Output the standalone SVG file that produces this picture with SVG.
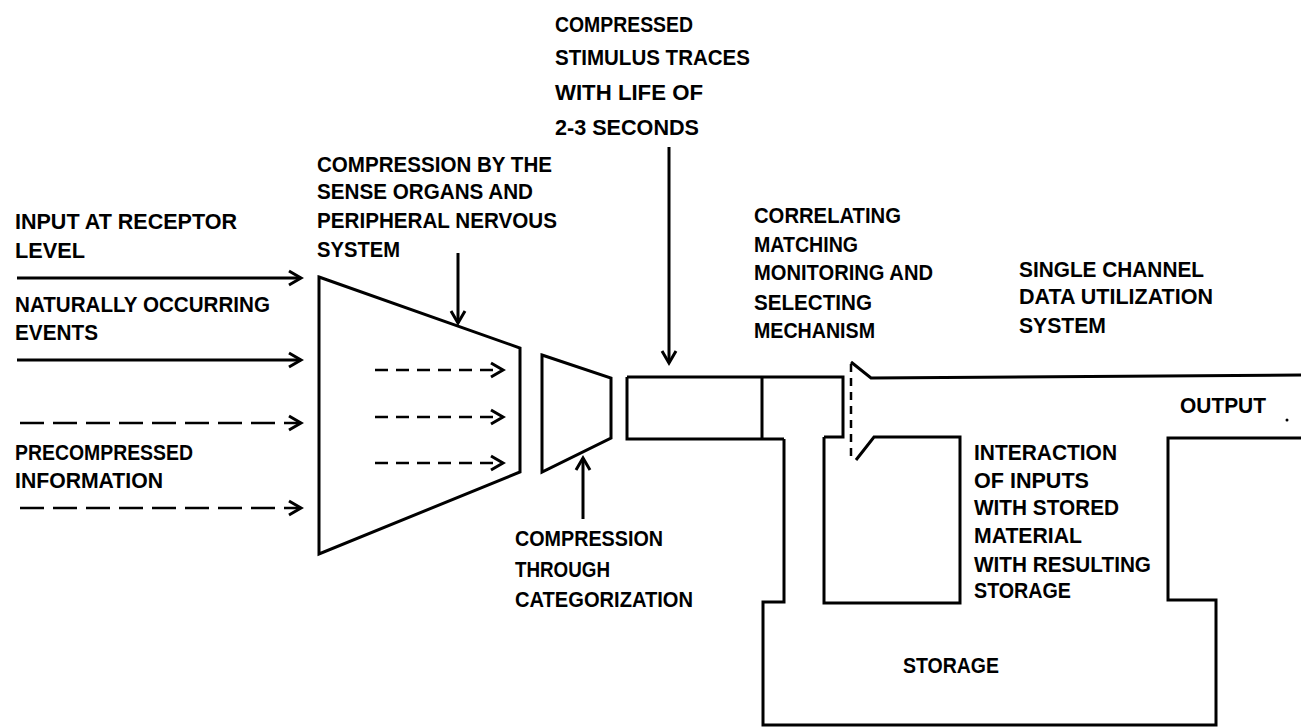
<svg xmlns="http://www.w3.org/2000/svg" width="1301" height="727" viewBox="0 0 1301 727">
<style>
.t{font-family:"Liberation Sans",Arial,sans-serif;font-weight:bold;font-size:22px;fill:#000}
.ln{fill:none;stroke:#000;stroke-width:3;stroke-linejoin:miter}
.dl{fill:none;stroke:#000;stroke-width:2.5;stroke-dasharray:24 9}
.ds{fill:none;stroke:#000;stroke-width:2.5;stroke-dasharray:13 8}
.dv{fill:none;stroke:#000;stroke-width:2.5;stroke-dasharray:8 6}
</style>
<defs>
<marker id="ah" markerUnits="userSpaceOnUse" markerWidth="16" markerHeight="18" viewBox="0 0 16 18" refX="14" refY="9" orient="auto" overflow="visible">
<path d="M2,2 L14,9 L2,16" fill="none" stroke="#000" stroke-width="3"/>
</marker>
</defs>
<rect width="1301" height="727" fill="#fff"/>

<g id="inputs-text">
<text class="t" x="15" y="229" textLength="222" lengthAdjust="spacingAndGlyphs">INPUT AT RECEPTOR</text>
<text class="t" x="15" y="258" textLength="70" lengthAdjust="spacingAndGlyphs">LEVEL</text>
<text class="t" x="15" y="312" textLength="255" lengthAdjust="spacingAndGlyphs">NATURALLY OCCURRING</text>
<text class="t" x="15" y="340" textLength="83" lengthAdjust="spacingAndGlyphs">EVENTS</text>
<text class="t" x="15" y="460" textLength="178" lengthAdjust="spacingAndGlyphs">PRECOMPRESSED</text>
<text class="t" x="15" y="488" textLength="148" lengthAdjust="spacingAndGlyphs">INFORMATION</text>
</g>

<g id="sense-compressor">
<path class="ln" d="M319,277 L520,348 L520,472 L319,554 Z"/>
<text class="t" x="317" y="172" textLength="235" lengthAdjust="spacingAndGlyphs">COMPRESSION BY THE</text>
<text class="t" x="317" y="199" textLength="216" lengthAdjust="spacingAndGlyphs">SENSE ORGANS AND</text>
<text class="t" x="317" y="228" textLength="240" lengthAdjust="spacingAndGlyphs">PERIPHERAL NERVOUS</text>
<text class="t" x="317" y="257" textLength="83" lengthAdjust="spacingAndGlyphs">SYSTEM</text>
</g>

<g id="categorizer">
<path class="ln" d="M542,355 L611,378 L611,438 L542,472 Z"/>
<text class="t" x="515" y="546" textLength="148" lengthAdjust="spacingAndGlyphs">COMPRESSION</text>
<text class="t" x="515" y="577" textLength="95" lengthAdjust="spacingAndGlyphs">THROUGH</text>
<text class="t" x="515" y="607" textLength="178" lengthAdjust="spacingAndGlyphs">CATEGORIZATION</text>
</g>

<g id="stimulus-traces">
<text class="t" x="555" y="32" textLength="138" lengthAdjust="spacingAndGlyphs">COMPRESSED</text>
<text class="t" x="555" y="65" textLength="195" lengthAdjust="spacingAndGlyphs">STIMULUS TRACES</text>
<text class="t" x="555" y="100" textLength="148" lengthAdjust="spacingAndGlyphs">WITH LIFE OF</text>
<text class="t" x="555" y="135" textLength="144" lengthAdjust="spacingAndGlyphs">2-3 SECONDS</text>
</g>

<g id="buffer">
<path class="ln" d="M627,377 L843,377 L843,437 L824,437 M627,377 L627,439 L784,439 M762,377 L762,439"/>
</g>

<g id="selector">
<text class="t" x="754" y="223" textLength="147" lengthAdjust="spacingAndGlyphs">CORRELATING</text>
<text class="t" x="754" y="252" textLength="104" lengthAdjust="spacingAndGlyphs">MATCHING</text>
<text class="t" x="754" y="280" textLength="179" lengthAdjust="spacingAndGlyphs">MONITORING AND</text>
<text class="t" x="754" y="310" textLength="118" lengthAdjust="spacingAndGlyphs">SELECTING</text>
<text class="t" x="754" y="338" textLength="121" lengthAdjust="spacingAndGlyphs">MECHANISM</text>
<path class="dv" d="M851,364 L851,456"/>
</g>

<g id="channel">
<path class="ln" d="M851,362 L871,378 L1301,375"/>
<text class="t" x="1019" y="277" textLength="185" lengthAdjust="spacingAndGlyphs">SINGLE CHANNEL</text>
<text class="t" x="1019" y="304" textLength="194" lengthAdjust="spacingAndGlyphs">DATA UTILIZATION</text>
<text class="t" x="1019" y="333" textLength="87" lengthAdjust="spacingAndGlyphs">SYSTEM</text>
<text class="t" x="1180" y="413" textLength="86" lengthAdjust="spacingAndGlyphs">OUTPUT</text>
<circle cx="1287" cy="420" r="1.5" fill="#000"/>
</g>

<g id="interaction">
<path class="ln" d="M824,437 L824,603 L960,603 L960,437 L874,437 L856,460"/>
<text class="t" x="974" y="460" textLength="143" lengthAdjust="spacingAndGlyphs">INTERACTION</text>
<text class="t" x="974" y="488" textLength="115" lengthAdjust="spacingAndGlyphs">OF INPUTS</text>
<text class="t" x="974" y="515" textLength="145" lengthAdjust="spacingAndGlyphs">WITH STORED</text>
<text class="t" x="974" y="543" textLength="108" lengthAdjust="spacingAndGlyphs">MATERIAL</text>
<text class="t" x="974" y="572" textLength="177" lengthAdjust="spacingAndGlyphs">WITH RESULTING</text>
<text class="t" x="974" y="598" textLength="97" lengthAdjust="spacingAndGlyphs">STORAGE</text>
</g>

<g id="storage">
<path class="ln" d="M784,439 L784,602 L763,602 L763,725 L1216,725 L1216,600 L1168,600 L1168,438 L1301,438"/>
<text class="t" x="903" y="673" textLength="96" lengthAdjust="spacingAndGlyphs">STORAGE</text>
</g>

<g id="connectors">
<path class="ln" d="M17,278 L301,278" marker-end="url(#ah)"/>
<path class="ln" d="M17,360 L301,360" marker-end="url(#ah)"/>
<path class="dl" d="M20,423 L301,423" marker-end="url(#ah)"/>
<path class="dl" d="M20,508 L301,508" marker-end="url(#ah)"/>
<path class="ds" d="M375,370 L503,370" marker-end="url(#ah)"/>
<path class="ds" d="M375,417 L503,417" marker-end="url(#ah)"/>
<path class="ds" d="M375,463 L503,463" marker-end="url(#ah)"/>
<path class="ln" d="M458,253 L458,323" marker-end="url(#ah)"/>
<path class="ln" d="M583,519 L583,458" marker-end="url(#ah)"/>
<path class="ln" d="M669,147 L669,363" marker-end="url(#ah)"/>
</g>
</svg>
